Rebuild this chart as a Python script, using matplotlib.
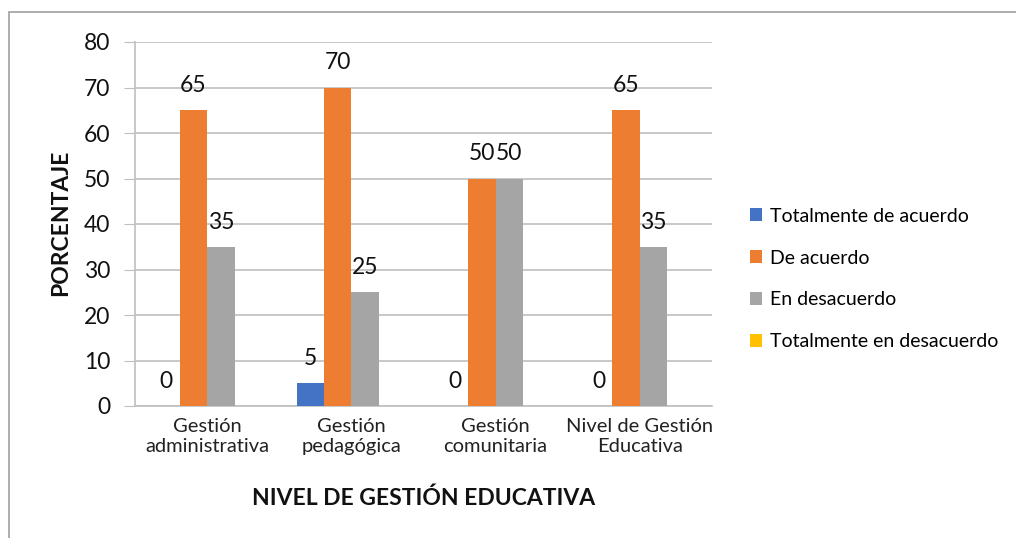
import matplotlib.pyplot as plt
import matplotlib.patches as patches
import numpy as np

plt.rcParams['font.family'] = ['Lato', 'DejaVu Sans']

# data
categories = ['Gestión\nadministrativa', 'Gestión\npedagógica', 'Gestión\ncomunitaria', 'Nivel de Gestión\nEducativa']
series_names = ['Totalmente de acuerdo', 'De acuerdo', 'En desacuerdo', 'Totalmente en desacuerdo']
tot_acuerdo = [0, 5, 0, 0]
de_acuerdo = [65, 70, 50, 65]
en_desacuerdo = [35, 25, 50, 35]
tot_desacuerdo = [0, 0, 0, 0]
colors = ['#4472C4', '#ED7D31', '#A5A5A5', '#FFC000']

values = [tot_acuerdo, de_acuerdo, en_desacuerdo, tot_desacuerdo]
show_labels = [True, True, True, False]

fig = plt.figure(figsize=(10.16, 5.38), dpi=100)
ax = fig.add_axes([135 / 1016, 1 - 406 / 538, (712 - 135) / 1016, (406 - 42) / 538])

# outer chart frame
fig.patches.append(patches.Rectangle((9 / 1016, -0.1), 1.2, 1.1 - 12 / 538,
                                     transform=fig.transFigure, fill=False,
                                     edgecolor='#A0A0A0', linewidth=1.2))

x = np.arange(len(categories))
bw = 0.19
for i, (vals, name, col) in enumerate(zip(values, series_names, colors)):
    pos = x + (i - 1.5) * bw
    ax.bar(pos, vals, width=bw, color=col, label=name, zorder=3)
    if show_labels[i]:
        for p, v in zip(pos, vals):
            ax.annotate(f'{v}', (p, v), xytext=(0, 13), textcoords='offset points',
                        ha='center', va='baseline', fontsize=16.5, color='#111111')

ax.set_ylim(0, 80)
ax.set_xlim(-0.5, len(categories) - 0.5)
ax.set_yticks(range(0, 81, 10))
ax.tick_params(axis='y', labelsize=16.5, length=8, color='#BFBFBF', pad=10, labelcolor='#111111')
ax.set_xticks(x)
ax.set_xticklabels(categories, fontsize=14.5, color='#222222')
ax.tick_params(axis='x', length=0, pad=9)
ax.grid(axis='y', color='#BFBFBF', linewidth=1.2, zorder=0)
for s in ['top', 'right']:
    ax.spines[s].set_visible(False)
ax.spines['left'].set_color('#BFBFBF')
ax.spines['bottom'].set_color('#BFBFBF')
ax.spines['left'].set_linewidth(1.2)
ax.spines['bottom'].set_linewidth(1.2)

fig.text(61 / 1016, 1 - 223 / 538, 'PORCENTAJE', rotation=90, ha='center', va='center',
         fontsize=16.5, fontweight='bold', color='#111111')
fig.text(424 / 1016, 1 - 498 / 538, 'NIVEL DE GESTIÓN EDUCATIVA', ha='center', va='center',
         fontsize=16.5, fontweight='bold', color='#111111')

ax.legend(loc='center left', bbox_to_anchor=(732 / 1016, 1 - 279 / 538), bbox_transform=fig.transFigure,
          frameon=False, fontsize=14, handlelength=0.65, handleheight=0.65, handletextpad=0.4,
          labelspacing=1.28)

fig.savefig('out.png', dpi=100)
